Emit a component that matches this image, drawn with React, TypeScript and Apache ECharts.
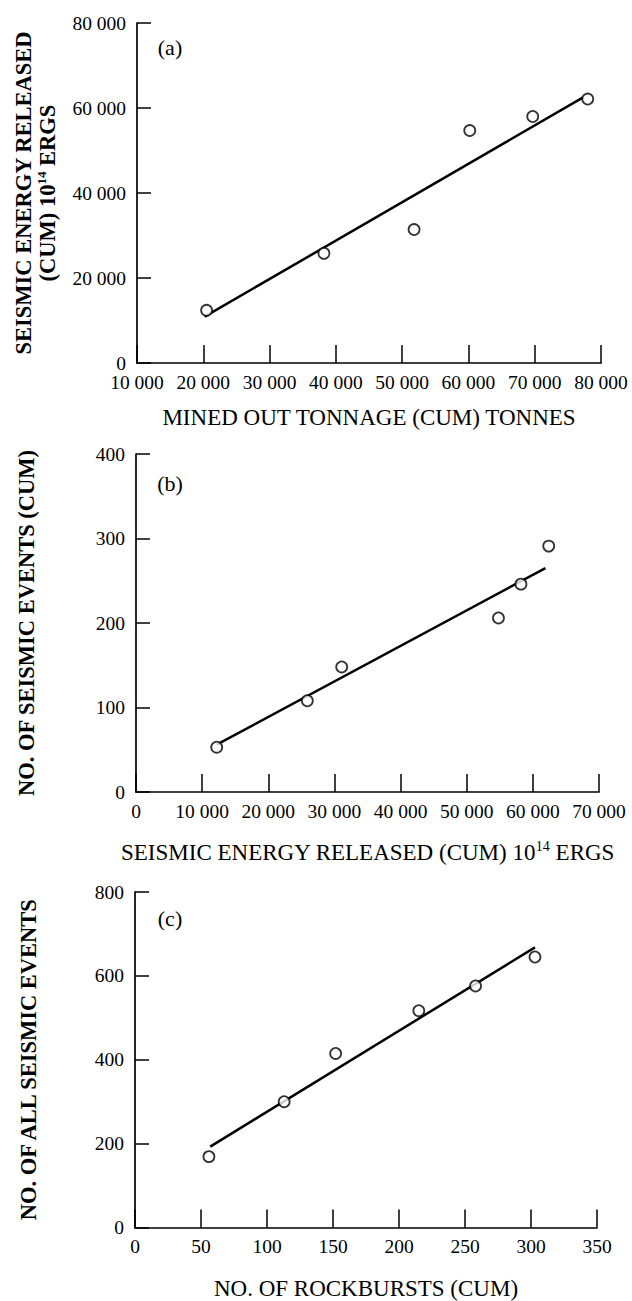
import React, { useEffect, useRef } from "react";
import * as echarts from "echarts";

const FONT = '"Liberation Serif", "Times New Roman", serif';

// Panel (a): mined out tonnage vs seismic energy released
const aTonnage = [20500, 38200, 51800, 60200, 69700, 78000];
const aEnergy = [12400, 25800, 31400, 54700, 58000, 62100];
const aFitX = [20200, 77300];
const aFitY = [10900, 62500];

// Panel (b): seismic energy released vs number of seismic events
const bEnergy = [12200, 25900, 31100, 54800, 58200, 62400];
const bEvents = [53, 108, 148, 206, 246, 291];
const bFitX = [12200, 61900];
const bFitY = [56, 265];

// Panel (c): number of rockbursts vs number of all seismic events
const cBursts = [56, 113, 152, 215, 258, 303];
const cAllEvents = [169, 300, 415, 517, 576, 645];
const cFitX = [57, 303];
const cFitY = [193, 668];

const panelLabels = ["(a)", "(b)", "(c)"];

function fmt(v: number): string {
  return String(v).replace(/\B(?=(\d{3})+(?!\d))/g, " ");
}

function zip(xs: number[], ys: number[]) {
  return xs.map((x, i) => [x, ys[i]]);
}

const titleRich = {
  r: { fontFamily: FONT, fontSize: 23, color: "#000", lineHeight: 26 },
  rs: { fontFamily: FONT, fontSize: 14, color: "#000", lineHeight: 26, verticalAlign: "top", padding: [0, 0, 10, 0] },
  b: { fontFamily: FONT, fontSize: 22.5, fontWeight: "bold", color: "#000", lineHeight: 24 },
  bs: { fontFamily: FONT, fontSize: 13, fontWeight: "bold", color: "#000", lineHeight: 24, verticalAlign: "top", padding: [0, 0, 9, 0] },
};

function xAxisDef(gridIndex: number, min: number, max: number, interval: number, name: string, nameGap: number) {
  return {
    type: "value",
    gridIndex,
    min,
    max,
    interval,
    axisLine: { show: true, onZero: false, lineStyle: { color: "#000", width: 1.7 } },
    axisTick: { show: true, inside: true, length: 18, lineStyle: { color: "#000", width: 1.5 } },
    axisLabel: { color: "#000", fontFamily: FONT, fontSize: 19.5, margin: 9, formatter: fmt, showMinLabel: true, showMaxLabel: true },
    splitLine: { show: false },
    name,
    nameLocation: "middle",
    nameGap,
    nameTextStyle: { rich: titleRich },
  };
}

function yAxisDef(gridIndex: number, min: number, max: number, interval: number, name: string, nameGap: number) {
  return {
    type: "value",
    gridIndex,
    min,
    max,
    interval,
    axisLine: { show: true, onZero: false, lineStyle: { color: "#000", width: 1.7 } },
    axisTick: { show: true, inside: true, length: 14, lineStyle: { color: "#000", width: 1.5 } },
    axisLabel: { color: "#000", fontFamily: FONT, fontSize: 19.5, margin: 11, formatter: fmt, showMinLabel: true, showMaxLabel: true },
    splitLine: { show: false },
    name,
    nameLocation: "middle",
    nameGap,
    nameTextStyle: { rich: titleRich },
  };
}

function scatterSeries(idx: number, xs: number[], ys: number[]) {
  return {
    type: "scatter",
    xAxisIndex: idx,
    yAxisIndex: idx,
    data: zip(xs, ys),
    symbol: "circle",
    symbolSize: 11,
    itemStyle: { color: "#fff", borderColor: "#000", borderWidth: 1.8 },
    z: 3,
  };
}

function fitSeries(idx: number, xs: number[], ys: number[]) {
  return {
    type: "line",
    xAxisIndex: idx,
    yAxisIndex: idx,
    data: zip(xs, ys),
    symbol: "none",
    lineStyle: { color: "#000", width: 2.5 },
    z: 2,
  };
}

export default function App() {
  const ref = useRef<HTMLDivElement>(null);

  useEffect(() => {
    if (!ref.current) return;
    const chart = echarts.init(ref.current, undefined, { renderer: "svg" });
    const option = {
      animation: false,
      backgroundColor: "#fff",
      grid: [
        { left: 137, top: 23, width: 464, height: 340 },
        { left: 136, top: 454, width: 463, height: 338 },
        { left: 135, top: 892, width: 462, height: 341 },
      ],
      xAxis: [
        xAxisDef(0, 10000, 80000, 10000, "{r|MINED OUT TONNAGE (CUM) TONNES}", 41),
        xAxisDef(1, 0, 70000, 10000, "{r|SEISMIC ENERGY RELEASED (CUM) 10}{rs|14}{r| ERGS}", 47),
        xAxisDef(2, 0, 350, 50, "{r|NO. OF ROCKBURSTS (CUM)}", 48),
      ],
      yAxis: [
        yAxisDef(0, 0, 80000, 20000, "{b|SEISMIC ENERGY RELEASED}\n{b|(CUM) 10}{bs|14}{b| ERGS}", 78),
        yAxisDef(1, 0, 400, 100, "{b|NO. OF SEISMIC EVENTS (CUM)}", 98),
        yAxisDef(2, 0, 800, 200, "{b|NO. OF ALL SEISMIC EVENTS}", 95),
      ],
      graphic: [
        { type: "text", x: 170, y: 47, style: { text: panelLabels[0], fontFamily: FONT, fontSize: 22, fill: "#000", align: "center", verticalAlign: "middle" } },
        { type: "text", x: 170, y: 483, style: { text: panelLabels[1], fontFamily: FONT, fontSize: 22, fill: "#000", align: "center", verticalAlign: "middle" } },
        { type: "text", x: 170, y: 918, style: { text: panelLabels[2], fontFamily: FONT, fontSize: 22, fill: "#000", align: "center", verticalAlign: "middle" } },
      ],
      series: [
        fitSeries(0, aFitX, aFitY),
        scatterSeries(0, aTonnage, aEnergy),
        fitSeries(1, bFitX, bFitY),
        scatterSeries(1, bEnergy, bEvents),
        fitSeries(2, cFitX, cFitY),
        scatterSeries(2, cBursts, cAllEvents),
      ],
    };
    chart.setOption(option as any);
    return () => chart.dispose();
  }, []);

  return (
    <div
      ref={ref}
      style={{ position: "absolute", left: 0, top: 0, width: 632, height: 1301, background: "#fff" }}
    />
  );
}
